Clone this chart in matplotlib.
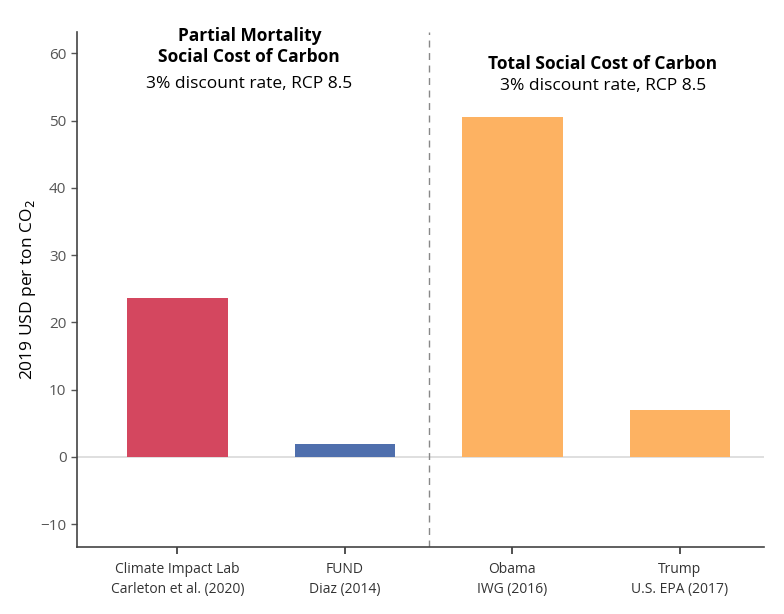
import matplotlib.pyplot as plt

# Data
labels = ['Climate Impact Lab\nCarleton et al. (2020)', 'FUND\nDiaz (2014)',
          'Obama\nIWG (2016)', 'Trump\nU.S. EPA (2017)']
values = [23.6, 2.0, 50.6, 7.0]
colors = ['#D4475F', '#4F6FAD', '#FDB262', '#FDB262']
yticks = [-10, 0, 10, 20, 30, 40, 50, 60]

plt.rcParams['font.family'] = ['Open Sans', 'DejaVu Sans']

fig = plt.figure(figsize=(7.84, 6.14), dpi=100)
ax = fig.add_axes([0.098, 0.109, 0.876, 0.839])

x = range(len(values))
ax.bar(x, values, width=0.6, color=colors, zorder=2)
ax.axhline(0, color='#d9d9d9', lw=1.2, zorder=1)
ax.axvline(1.5, color='#888888', lw=1, ls=(0, (5, 4)), zorder=1)

ax.set_xlim(-0.6, 3.5)
ax.set_ylim(-13.4, 63.2)
ax.set_yticks(yticks)
ax.set_yticklabels([str(t).replace('-', '\u2212') for t in yticks])
ax.set_xticks(list(x))
ax.set_xticklabels(labels, fontsize=10, color='#333333', linespacing=1.4)
ax.tick_params(axis='y', labelsize=11, colors='#555555', length=4, width=1)
ax.tick_params(axis='x', colors='#333333', length=5, width=1.2, pad=6)
ax.set_ylabel('2019 USD per ton CO$_2$', fontsize=12.5, labelpad=2)

for s in ['top', 'right']:
    ax.spines[s].set_visible(False)
for s in ['left', 'bottom']:
    ax.spines[s].set_color('#444444')
    ax.spines[s].set_linewidth(1.2)

# Panel headings
ax.text(0.43, 61.0, 'Partial Mortality\nSocial Cost of Carbon', ha='center', va='center',
        fontsize=12.5, fontweight='bold', linespacing=1.25)
ax.text(0.43, 55.5, '3% discount rate, RCP 8.5', ha='center', va='center', fontsize=12.5)
ax.text(2.54, 58.4, 'Total Social Cost of Carbon', ha='center', va='center',
        fontsize=12.5, fontweight='bold')
ax.text(2.54, 55.1, '3% discount rate, RCP 8.5', ha='center', va='center', fontsize=12.5)

fig.savefig('out.png', dpi=100)
